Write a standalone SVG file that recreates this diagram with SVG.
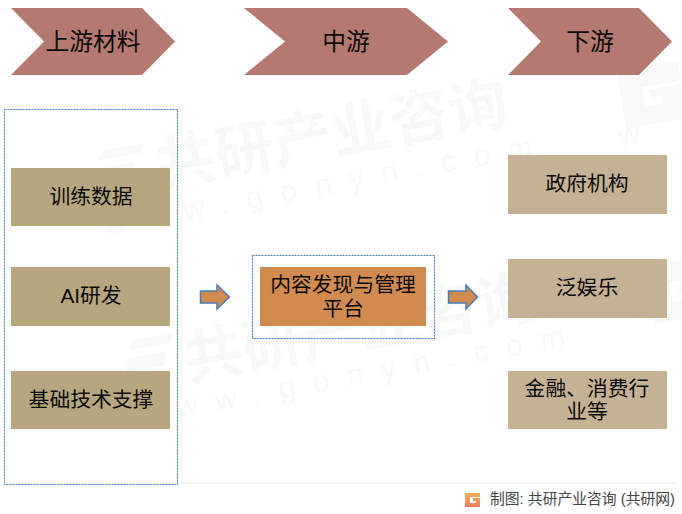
<svg xmlns="http://www.w3.org/2000/svg" width="682" height="514" viewBox="0 0 682 514">
<defs>
<linearGradient id="logo" x1="0" y1="0" x2="0" y2="1"><stop offset="0" stop-color="#f7b05a"/><stop offset="1" stop-color="#ee7b5e"/></linearGradient>
<path id="wmG" d="M0 0H62V20H22V40H40V32H30V24H62V58H0Z" fill="#f8f8f8"/>
<path id="wmS" d="M8 0H50L44 9H2ZM0 17H38L34 30H-4Z" fill="#f8f8f8"/>
</defs>
<style>
text{font-family:"Liberation Sans","Noto Sans CJK SC",sans-serif;fill:#0a0a0a;text-anchor:middle}
.h{font-size:23.800px}
.t{font-size:20.800px}
.chev{fill:#b47971}
.box{fill:#b7a780}
.box2{fill:#c5b295}
.dash{fill:none;stroke:#3f7fbf;stroke-width:1;stroke-dasharray:2 1}
.arrow{fill:#d18b4f;stroke:#4a7eb5;stroke-width:1.500}
text.wm{fill:#f8f8f8;font-weight:700;font-size:59.500px;text-anchor:start}
text.wu{fill:#f8f8f8;font-size:30px;letter-spacing:18px;text-anchor:start}
</style>
<rect width="682" height="514" fill="#fff"/>
<g id="watermark">
<text class="wm" transform="translate(160 187) rotate(-10.500)">共研产业咨询</text>
<text class="wu" transform="translate(107 235) rotate(-10.500)">www.gonyn.com</text>
<text class="wm" transform="translate(188 381) rotate(-10.500)">共研产业咨询</text>
<text class="wu" transform="translate(139 425) rotate(-10.500)">www.gonyn.com</text>
<text class="wu" transform="translate(110 48) rotate(-10.500)">ww</text>
<use href="#wmS" transform="translate(95 152) rotate(-10.500)"/>
<use href="#wmS" transform="translate(125 342) rotate(-10.500)"/>
<use href="#wmG" transform="translate(616 72) rotate(-10.500)"/>
<use href="#wmG" transform="translate(644 267) rotate(-10.500)"/>
<text class="wu" transform="translate(620 146) rotate(-10.500)">w</text>
</g>
<line x1="178" y1="483" x2="676" y2="483" stroke="#e8e8e8" stroke-width="1"/>
<g id="connectors">
<path class="arrow" d="M200.500 291H217V285L229.500 297L217 309V303H200.500Z"/>
<path class="arrow" d="M448.500 291H466V285L477.500 297L466 309V303H448.500Z"/>
</g>
<g id="upstream-header"><path class="chev" d="M11 8H142L175 41.500L142 75H11L44 41.500Z"/><text class="h" x="93" y="50">上游材料</text></g>
<g id="midstream-header"><path class="chev" d="M244 8H407L448 41.500L407 75H244L285 41.500Z"/><text class="h" x="346" y="50">中游</text></g>
<g id="downstream-header"><path class="chev" d="M508 8H639L672 41.500L639 75H508L541 41.500Z"/><text class="h" x="590" y="50">下游</text></g>
<g id="upstream-group"><rect class="dash" x="4.500" y="109.500" width="173" height="375"/></g>
<g id="node-data"><rect class="box" x="11" y="168" width="159" height="58"/><text class="t" x="91" y="204">训练数据</text></g>
<g id="node-ai"><rect class="box" x="11" y="267" width="159" height="59"/><text class="t" x="91" y="303">AI研发</text></g>
<g id="node-tech"><rect class="box" x="11" y="371" width="159" height="58"/><text class="t" x="91" y="407">基础技术支撑</text></g>
<g id="midstream-group"><rect class="dash" x="252.500" y="255.500" width="182" height="83"/></g>
<g id="node-platform"><rect x="260" y="267" width="166" height="59" fill="#d18b4f"/><text class="t"><tspan x="343" y="292">内容发现与管理</tspan><tspan x="343" y="316">平台</tspan></text></g>
<g id="node-gov"><rect class="box2" x="508" y="155" width="159" height="59"/><text class="t" x="587" y="191">政府机构</text></g>
<g id="node-ent"><rect class="box2" x="508" y="259" width="159" height="59"/><text class="t" x="587" y="295">泛娱乐</text></g>
<g id="node-fin"><rect class="box2" x="508" y="371" width="159" height="58"/><text class="t"><tspan x="587" y="396">金融、消费行</tspan><tspan x="587" y="419">业等</tspan></text></g>
<g id="source">
<path d="M465 493H480V497H470V503H476V501H473V498H480V507H465Z" fill="url(#logo)"/>
<text x="582.500" y="504" style="font-size:14.800px;fill:#444">制图: 共研产业咨询 (共研网)</text>
</g>
</svg>
